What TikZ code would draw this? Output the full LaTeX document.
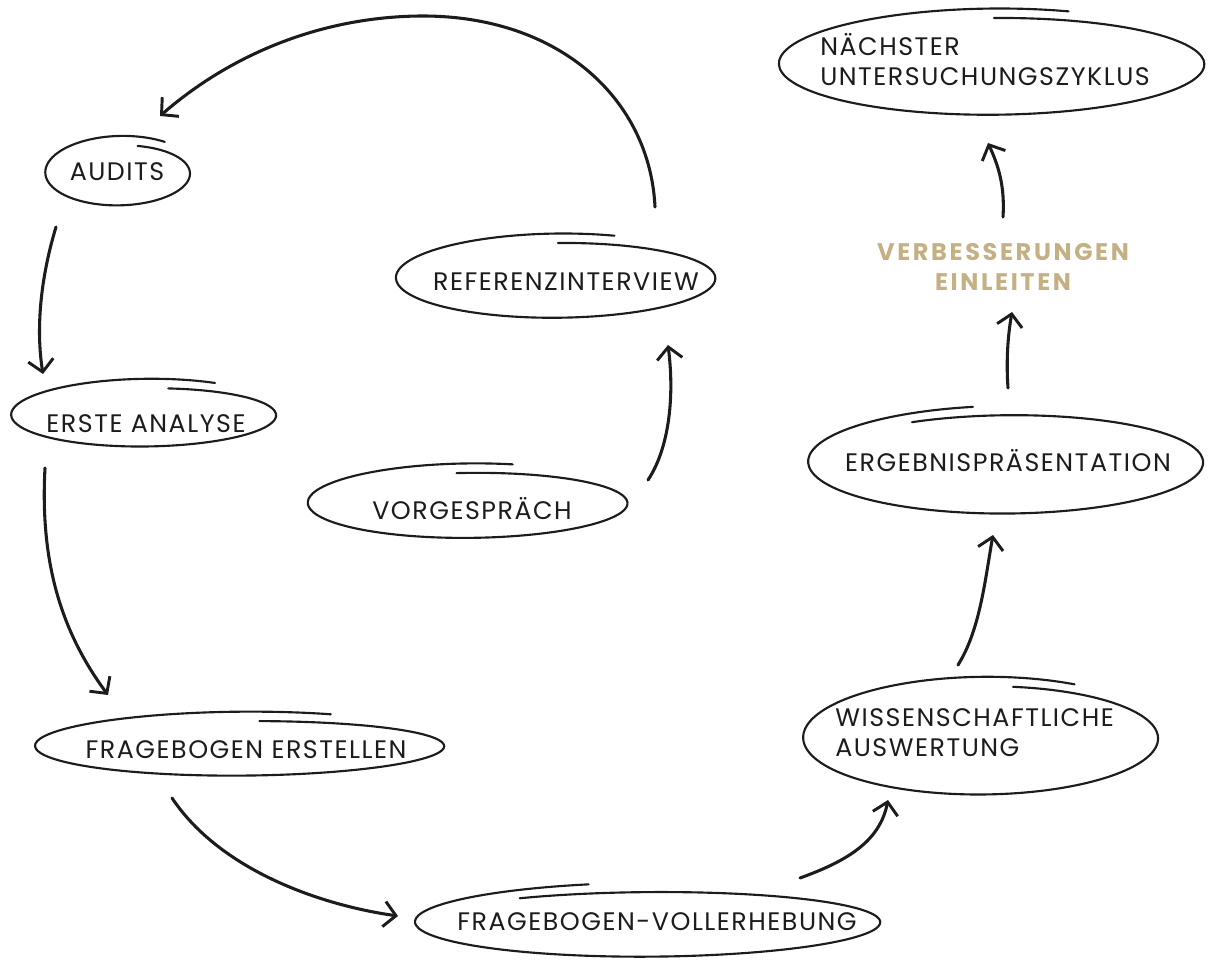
\documentclass[tikz,border=0pt]{standalone}
\usepackage{fontspec}
\setmainfont{Poppins}[LetterSpace=6]
\usetikzlibrary{arrows.meta}
\definecolor{gold}{RGB}{196,176,130}
\definecolor{ink}{RGB}{28,28,28}
\tikzset{
  lbl/.style={font=\fontsize{19}{22.5}\selectfont, text=ink, inner sep=0pt, align=left},
  hl/.style={font=\fontsize{18}{23}\selectfont\bfseries\addfontfeatures{LetterSpace=11}, text=gold, align=center, inner sep=0pt},
  ring/.style={draw=ink, line width=1.6pt, line cap=round},
  conn/.style={draw=ink, line width=2.3pt, line cap=round,
    -{Straight Barb[length=9pt,width=19pt,line width=2.2pt]}},
}
% cx cy rx ry start end
\newcommand{\sketchring}[6]{%
  \draw[ring] plot[smooth, domain=#5:#6, samples=90, variable=\t]
    ({#1+(#3-10*(\t-#5)/380)*cos(\t)},{#2-(#4-10*(\t-#5)/380)*sin(\t)});}
\begin{document}
\begin{tikzpicture}[x=0.75pt,y=-0.75pt]
\useasboundingbox (0,0) rectangle (1213,962);

% rings
\sketchring{120}{173}{78}{38}{55}{435}
\sketchring{558}{278}{165}{45}{70}{450}
\sketchring{994}{64}{218}{56}{70}{450}
\sketchring{146}{415}{138}{37}{60}{440}
\sketchring{470}{503}{165}{40}{75}{455}
\sketchring{1008}{462}{202}{56}{100}{480}
\sketchring{242}{746}{210}{35}{65}{445}
\sketchring{650}{922}{237}{39}{105}{485}
\sketchring{983}{738}{183}{62}{60}{440}

% labels
\node[lbl] (audits) at (117,172) {AUDITS};
\node[lbl] (referenz) at (566,282) {REFERENZINTERVIEW};
\node[lbl, anchor=west] (naechster) at (820,60) {NÄCHSTER\\UNTERSUCHUNGSZYKLUS};
\node[hl] (verbess) at (1003,267) {VERBESSERUNGEN\\EINLEITEN};
\node[lbl] (erste) at (146,424) {ERSTE ANALYSE};
\node[lbl] (vorgespraech) at (472,509) {VORGESPRÄCH};
\node[lbl] (ergebnis) at (1008,461) {ERGEBNISPRÄSENTATION};
\node[lbl] (erstellen) at (246,750) {FRAGEBOGEN ERSTELLEN};
\node[lbl] (vollerhebung) at (657,922) {FRAGEBOGEN-VOLLERHEBUNG};
\node[lbl, anchor=west] (wiss) at (835,733) {WISSENSCHAFTLICHE\\AUSWERTUNG};

% connector end points
\coordinate (r1) at (655,207);
\coordinate (r1top) at (420,16);
\coordinate (a1) at (160,116);
\coordinate (a2) at (56,227);
\coordinate (e2) at (43,374);
\coordinate (a3) at (45,468);
\coordinate (e3) at (108,695);
\coordinate (a4) at (172,798);
\coordinate (e4) at (398,916);
\coordinate (a5) at (800,878);
\coordinate (e5) at (888,800);
\coordinate (a6) at (958,665);
\coordinate (e6) at (993,535);
\coordinate (a7) at (1008,388);
\coordinate (e7) at (1012,312);
\coordinate (a8) at (1003,217);
\coordinate (e8) at (988,143);
\coordinate (a9) at (648,480);
\coordinate (e9) at (668,345);

% connectors
\draw[conn] (r1) .. controls (650,100) and (560,15) .. (r1top) .. controls (320,17) and (230,55) .. (a1);
\draw[conn] (a2) .. controls (40,280) and (36,330) .. (e2);
\draw[conn] (a3) .. controls (40,560) and (60,630) .. (e3);
\draw[conn] (a4) .. controls (220,870) and (320,905) .. (e4);
\draw[conn] (a5) .. controls (850,860) and (880,840) .. (e5);
\draw[conn] (a6) .. controls (980,630) and (985,580) .. (e6);
\draw[conn] (a7) .. controls (1006,360) and (1008,335) .. (e7);
\draw[conn] (a8) .. controls (1005,185) and (998,165) .. (e8);
\draw[conn] (a9) .. controls (668,450) and (675,400) .. (e9);
\end{tikzpicture}
\end{document}
